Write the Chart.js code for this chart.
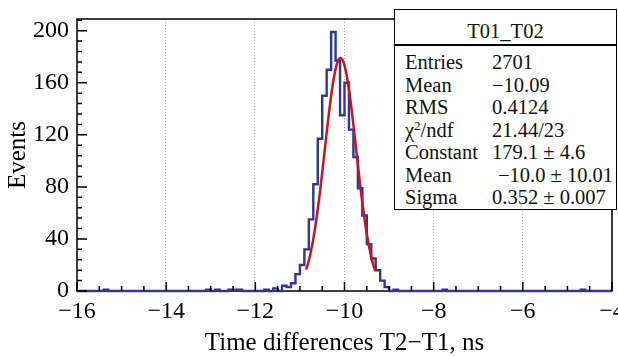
<!DOCTYPE html>
<html>
<head>
<title>T01_T02</title>
<script src="https://cdn.jsdelivr.net/npm/chart.js@4/dist/chart.umd.min.js"></script>
<style>
  body { margin: 0; background: #fff; }
  #wrap { position: relative; width: 618px; height: 356px; }
  #stats {
    position: absolute; left: 394px; top: 9px; width: 223px; height: 201px;
    box-sizing: border-box; border: 1.5px solid #000; background: #fff;
    font-family: "Liberation Serif", serif; font-size: 20.5px; color: #111;
  }
  #stats .head { position: absolute; left: 0; right: 0; top: 6px; height: 30px; line-height: 30px; text-align: center; }
  #stats .sep { position: absolute; left: 0; right: 0; top: 34px; height: 1.5px; background: #000; }
  #stats .rows { position: absolute; left: 0; right: 0; top: 41px; }
  #stats .row { position: relative; height: 22.5px; line-height: 22.5px; white-space: nowrap; }
  #stats .row .k { position: absolute; left: 10px; }
  #stats .row .v { position: absolute; left: 97px; }
  #stats sup { font-size: 13px; vertical-align: 0; position: relative; top: -7px; }
</style>
</head>
<body>
<div id="wrap">
  <canvas id="hist"></canvas>
  <div id="stats">
    <div class="head">T01_T02</div>
    <div class="sep"></div>
    <div class="rows">
      <div class="row"><span class="k">Entries</span><span class="v">2701</span></div>
      <div class="row"><span class="k">Mean</span><span class="v">&minus;10.09</span></div>
      <div class="row"><span class="k">RMS</span><span class="v">0.4124</span></div>
      <div class="row"><span class="k">&chi;<sup>2</sup>/ndf</span><span class="v">21.44/23</span></div>
      <div class="row"><span class="k">Constant</span><span class="v">179.1 &plusmn; 4.6</span></div>
      <div class="row"><span class="k">Mean</span><span class="v" style="left:103px">&minus;10.0 &plusmn; 10.01</span></div>
      <div class="row"><span class="k">Sigma</span><span class="v">0.352 &plusmn; 0.007</span></div>
    </div>
  </div>
</div>
<script>
// histogram: 120 bins of 0.1 ns from -16 to -4
const binLow = -16;
const binWidth = 0.1;
const counts = [
  0, 0, 0, 0, 0, 0, 0, 1, 0, 0,   0, 0, 0, 0, 0, 0, 0, 0, 0, 0,
  0, 0, 0, 0, 0, 0, 0, 0, 0, 0,   1, 0, 1, 0, 0, 1, 1, 1, 0, 0,
  0, 0, 0, 1, 0, 2, 0, 4, 3, 6,   13, 20, 32, 55, 82, 117, 150, 170, 199, 177,
  135, 160, 124, 103, 79, 58, 36, 25, 16, 8,   3, 0, 1, 0, 0, 0, 0, 0, 0, 0,
  0, 0, 0, 1, 0, 0, 0, 0, 0, 0,   0, 0, 0, 0, 0, 0, 0, 0, 0, 0,
  0, 0, 0, 0, 0, 0, 0, 0, 0, 0,   0, 0, 0, 0, 1, 0, 0, 0, 0, 0
];

// gaussian fit curve
const fitX = [-10.86, -10.80, -10.75, -10.70, -10.65, -10.60, -10.55, -10.50, -10.45, -10.40,
  -10.35, -10.30, -10.25, -10.20, -10.15, -10.10, -10.05, -10.00, -9.95, -9.90,
  -9.85, -9.80, -9.75, -9.70, -9.65, -9.60, -9.55, -9.50, -9.45, -9.40, -9.35, -9.31];
const fitY = [16.4, 23.4, 30.9, 39.9, 50.5, 62.7, 76.2, 90.9, 106.2, 121.5,
  136.4, 149.9, 161.5, 170.6, 176.5, 179.0, 178.0, 173.3, 165.5, 154.8,
  142.0, 127.6, 112.3, 96.9, 82.0, 68.0, 55.2, 44.0, 34.3, 26.2, 19.7, 15.4];

const xTicks = [-16, -14, -12, -10, -8, -6, -4];
const yTicks = [0, 40, 80, 120, 160, 200];
const yMax = 209;

const serif = "'Liberation Serif', 'DejaVu Serif', serif";
const fmt = v => (v < 0 ? '\u2212' : '') + Math.abs(v);

const histPoints = counts.map((c, i) => ({ x: binLow + i * binWidth, y: c }));
histPoints.push({ x: binLow + counts.length * binWidth, y: counts[counts.length - 1] });
const fitPoints = fitX.map((x, i) => ({ x: x, y: fitY[i] }));

// ROOT-like frame, dotted grid and inward ticks
const rootFrame = {
  id: 'rootFrame',
  beforeDatasetsDraw(chart) {
    const { ctx, chartArea: a, scales: { x } } = chart;
    ctx.save();
    ctx.strokeStyle = '#b0b0b0';
    ctx.lineWidth = 1;
    ctx.setLineDash([1, 2]);
    xTicks.slice(1).forEach(v => {
      const px = Math.round(x.getPixelForValue(v)) - 0.5;
      ctx.beginPath();
      ctx.moveTo(px, a.top);
      ctx.lineTo(px, a.bottom);
      ctx.stroke();
    });
    ctx.setLineDash([]);
    ctx.strokeStyle = '#000';
    ctx.lineWidth = 1.5;
    ctx.strokeRect(a.left, a.top, a.right - a.left, a.bottom - a.top);
    ctx.restore();
  },
  afterDatasetsDraw(chart) {
    const { ctx, chartArea: a, scales: { x, y } } = chart;
    ctx.save();
    ctx.strokeStyle = '#000';
    ctx.lineWidth = 1.5;
    ctx.beginPath();
    for (let k = 0; k <= 24; k++) {
      const v = -16 + k * 0.5;
      const px = x.getPixelForValue(v);
      const len = k % 4 === 0 ? 9 : 5;
      ctx.moveTo(px, a.bottom);
      ctx.lineTo(px, a.bottom - len);
    }
    for (let v = 0; v <= yMax; v += 8) {
      const py = y.getPixelForValue(v);
      const len = v % 40 === 0 ? 10 : 5;
      ctx.moveTo(a.left, py);
      ctx.lineTo(a.left + len, py);
    }
    ctx.stroke();
    ctx.restore();
  }
};

new Chart(document.getElementById('hist'), {
  type: 'line',
  data: {
    datasets: [
      {
        data: fitPoints,
        borderColor: '#c4161c',
        borderWidth: 2.5,
        pointRadius: 0,
        cubicInterpolationMode: 'monotone',
        fill: false
      },
      {
        data: histPoints,
        borderColor: '#33339a',
        borderWidth: 2.4,
        pointRadius: 0,
        stepped: 'after',
        fill: false,
        clip: false
      }
    ]
  },
  options: {
    responsive: true,
    maintainAspectRatio: false,
    animation: false,
    events: [],
    layout: { padding: { top: 19, right: 6, left: 0, bottom: 0 }, autoPadding: false },
    plugins: { legend: { display: false }, tooltip: { enabled: false } },
    scales: {
      x: {
        type: 'linear',
        min: -16,
        max: -4,
        grid: { display: false, drawTicks: false },
        border: { display: false },
        afterBuildTicks: s => { s.ticks = xTicks.map(v => ({ value: v })); },
        afterFit: s => { s.height = 65; s.paddingLeft = 0; s.paddingRight = 0; },
        ticks: {
          font: { family: serif, size: 24 },
          color: '#000',
          padding: 6,
          maxRotation: 0,
          autoSkip: false,
          callback: v => fmt(v)
        },
        title: {
          display: true,
          text: 'Time differences T2\u2212T1, ns',
          font: { family: serif, size: 25, lineHeight: 1 },
          color: '#000',
          padding: 0
        }
      },
      y: {
        min: 0,
        max: yMax,
        grid: { display: false, drawTicks: false },
        border: { display: false },
        afterBuildTicks: s => { s.ticks = yTicks.map(v => ({ value: v })); },
        afterFit: s => { s.width = 77; s.paddingTop = 0; s.paddingBottom = 0; },
        ticks: {
          font: { family: serif, size: 24 },
          color: '#000',
          padding: 8,
          callback: v => fmt(v)
        },
        title: {
          display: true,
          text: 'Events',
          font: { family: serif, size: 25, lineHeight: 1 },
          color: '#000',
          padding: { top: 6 }
        }
      }
    }
  },
  plugins: [rootFrame]
});
</script>
</body>
</html>
